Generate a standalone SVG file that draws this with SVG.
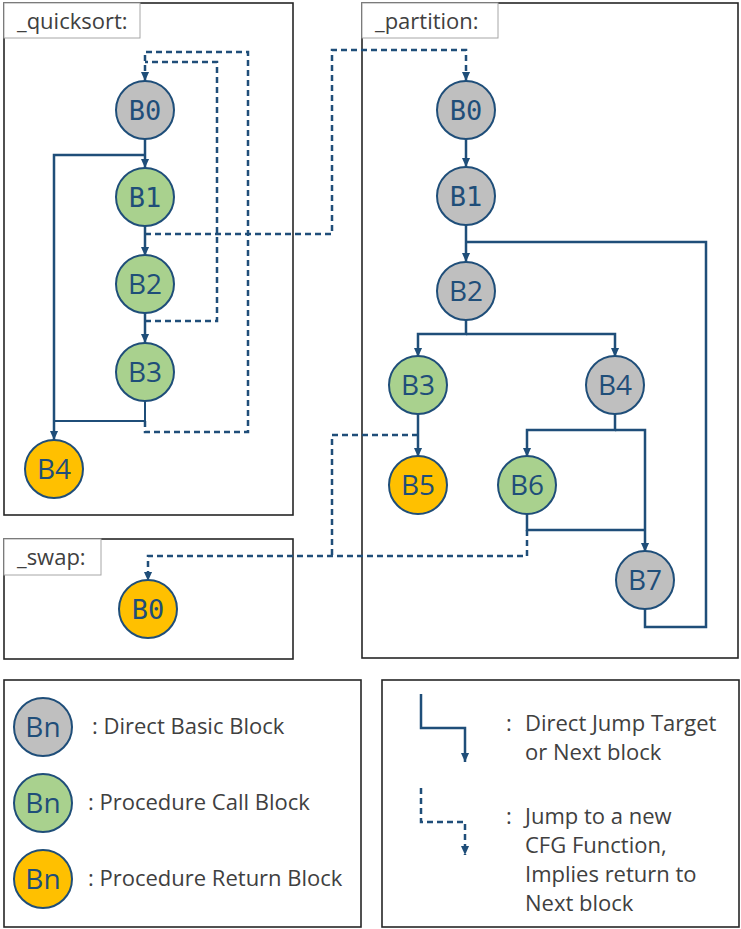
<svg xmlns="http://www.w3.org/2000/svg" width="741" height="929" viewBox="0 0 741 929">
<defs>
<marker id="ah" viewBox="0 0 10 10" refX="10" refY="5" markerWidth="9" markerHeight="9" markerUnits="userSpaceOnUse" orient="auto"><path d="M0 0.5 L10 5 L0 9.5 Z" fill="#1F4E79"/></marker>
<style>
.frame{fill:#fff;stroke:#262626;stroke-width:1.6}
.lbox{fill:#fff;stroke:#A6A6A6;stroke-width:1}
.lbl{font-family:"Open Sans","Liberation Sans",sans-serif;font-size:22px;fill:#404040}
.leg{font-family:"Open Sans","Liberation Sans",sans-serif;font-size:22px;fill:#404040}
.n{stroke:#1F4E79;stroke-width:2}
.g{fill:#BFBFBF}.gr{fill:#A9D18E}.o{fill:#FFC000}
.t{font-family:"Open Sans","Liberation Sans",sans-serif;font-size:28px;fill:#1F4E79;text-anchor:middle}
.m{font-family:"DejaVu Sans Mono","Liberation Mono",monospace;font-size:27px;fill:#1F4E79;text-anchor:middle}
.c{fill:none;stroke:#1F4E79;stroke-width:2.5}
.d{fill:none;stroke:#1F4E79;stroke-width:2.5;stroke-dasharray:6 4}
.a{marker-end:url(#ah)}
</style>
</defs>
<g id="frames">
<rect class="frame" x="4" y="3" width="289" height="512"/>
<rect class="lbox" x="4" y="3" width="136" height="35"/>
<text class="lbl" x="17" y="29">_quicksort:</text>
<rect class="frame" x="362" y="3" width="376" height="655"/>
<rect class="lbox" x="362" y="3" width="136" height="35"/>
<text class="lbl" x="375" y="29">_partition:</text>
<rect class="frame" x="4" y="539" width="289" height="120"/>
<rect class="lbox" x="4" y="539" width="97" height="36"/>
<text class="lbl" x="17" y="565">_swap:</text>
<rect class="frame" x="4" y="680" width="357" height="247"/>
<rect class="frame" x="382" y="680" width="357" height="247"/>
</g>
<g id="connectors">
<path class="c a" d="M145 139 V168"/>
<path class="c a" d="M145 155 H54 V440"/>
<path class="c a" d="M145 226 V256"/>
<path class="c a" d="M145 313 V343"/>
<path class="c" style="stroke-width:2" d="M145 401 V421 H54"/>
<path class="d a" d="M145 421 V432 H248 V52 H145 V81"/>
<path class="d" d="M145 321 H217 V62 H145"/>
<path class="d a" d="M145 234 H332 V50 H466 V81"/>
<path class="c a" d="M466 139 V167"/>
<path class="c a" d="M466 225 V262"/>
<path class="c" d="M645 609 V627 H706 V242 H466"/>
<path class="c a" d="M466 320 V334 H418 V357"/>
<path class="c a" d="M466 334 H615 V357"/>
<path class="c a" d="M418 413 V457"/>
<path class="c a" d="M615 413 V430 H527 V457"/>
<path class="c a" d="M615 430 H645 V552"/>
<path class="c" d="M527 513 V530 H645"/>
<path class="d" d="M418 435 H332 V556"/>
<path class="d a" d="M527 530 V556 H148 V581"/>
<path class="c a" d="M421 694 V728 H465 V762"/>
<path class="d a" d="M421 788 V822 H465 V855"/>
</g>
<g id="q_B0"><circle class="n g" cx="145" cy="110" r="29"/><text class="m" x="145" y="120">B0</text></g>
<g id="q_B1"><circle class="n gr" cx="145" cy="197" r="29"/><text class="m" x="145" y="207">B1</text></g>
<g id="q_B2"><circle class="n gr" cx="145" cy="284" r="29"/><text class="t" x="145" y="294">B2</text></g>
<g id="q_B3"><circle class="n gr" cx="145" cy="372" r="29"/><text class="t" x="145" y="382">B3</text></g>
<g id="q_B4"><circle class="n o" cx="54" cy="469" r="29"/><text class="t" x="54" y="479">B4</text></g>
<g id="p_B0"><circle class="n g" cx="466" cy="110" r="29"/><text class="m" x="466" y="120">B0</text></g>
<g id="p_B1"><circle class="n g" cx="466" cy="196" r="29"/><text class="m" x="466" y="206">B1</text></g>
<g id="p_B2"><circle class="n g" cx="466" cy="291" r="29"/><text class="t" x="466" y="301">B2</text></g>
<g id="p_B3"><circle class="n gr" cx="418" cy="385" r="29"/><text class="t" x="418" y="395">B3</text></g>
<g id="p_B4"><circle class="n g" cx="615" cy="385" r="29"/><text class="t" x="615" y="395">B4</text></g>
<g id="p_B5"><circle class="n o" cx="418" cy="485" r="29"/><text class="t" x="418" y="495">B5</text></g>
<g id="p_B6"><circle class="n gr" cx="527" cy="485" r="29"/><text class="t" x="527" y="495">B6</text></g>
<g id="p_B7"><circle class="n g" cx="645" cy="580" r="29"/><text class="t" x="645" y="590">B7</text></g>
<g id="s_B0"><circle class="n o" cx="148" cy="609" r="29"/><text class="m" x="148" y="619">B0</text></g>
<g id="legend_nodes">
<circle class="n g" cx="43" cy="727" r="29"/><text class="t" x="43" y="737">Bn</text>
<text class="leg" x="92" y="734">: Direct Basic Block</text>
<circle class="n gr" cx="43" cy="803" r="29"/><text class="t" x="43" y="813">Bn</text>
<text class="leg" x="88" y="810">: Procedure Call Block</text>
<circle class="n o" cx="43" cy="879" r="29"/><text class="t" x="43" y="889">Bn</text>
<text class="leg" x="88" y="886">: Procedure Return Block</text>
</g>
<g id="legend_edges">
<text class="leg" x="506" y="731">:</text>
<text class="leg" x="525" y="731">Direct Jump Target</text>
<text class="leg" x="525" y="760">or Next block</text>
<text class="leg" x="506" y="824">:</text>
<text class="leg" x="525" y="824">Jump to a new</text>
<text class="leg" x="525" y="853">CFG Function,</text>
<text class="leg" x="525" y="882">Implies return to</text>
<text class="leg" x="525" y="911">Next block</text>
</g>
</svg>
